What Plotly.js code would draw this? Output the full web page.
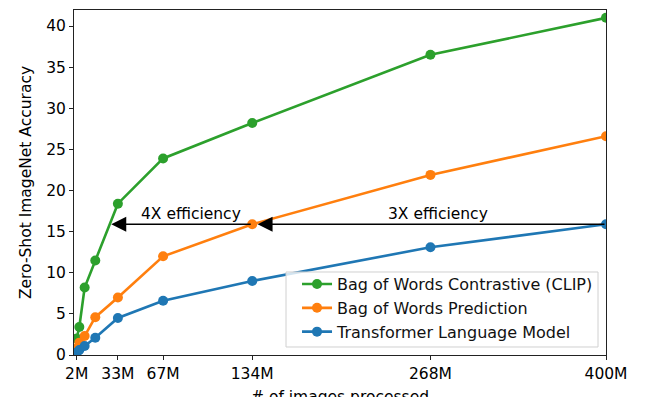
<!DOCTYPE html>
<html>
<head>
<meta charset="utf-8">
<script src="https://cdn.plot.ly/plotly-3.0.1.min.js"></script>
<style>html,body{margin:0;padding:0;background:#fff;}#chart{width:650px;height:397px;}</style>
</head>
<body>
<div id="chart"></div>
<script>
var imagesM = [2, 4, 8, 16, 33, 67, 134, 268, 400];
var clipAcc = [2.0, 3.4, 8.2, 11.5, 18.4, 23.9, 28.2, 36.5, 41.0];
var bowPredAcc = [0.8, 1.5, 2.3, 4.6, 7.0, 12.0, 15.9, 21.9, 26.6];
var transformerAcc = [0.3, 0.6, 1.1, 2.1, 4.5, 6.6, 9.0, 13.1, 15.9];
var tickVals = [2, 33, 67, 134, 268, 400];
var tickText = ["2M", "33M", "67M", "134M", "268M", "400M"];
var seriesNames = ["Bag of Words Contrastive (CLIP)", "Bag of Words Prediction", "Transformer Language Model"];
var seriesColors = ["#2ca02c", "#ff7f0e", "#1f77b4"];
var seriesData = [clipAcc, bowPredAcc, transformerAcc];

var font = "DejaVu Sans, sans-serif";
var fs = 15.5;
var traces = seriesData.map(function (ys, i) {
  return {
    x: imagesM, y: ys, name: seriesNames[i], type: "scatter", mode: "lines+markers",
    line: {color: seriesColors[i], width: 2.6},
    marker: {color: seriesColors[i], size: 10}
  };
});

var layout = {
  width: 650, height: 397,
  margin: {l: 74, r: 44, t: 10, b: 42},
  paper_bgcolor: "#fff", plot_bgcolor: "#fff",
  font: {family: font, size: fs, color: "#000"},
  showlegend: true,
  legend: {
    x: 0.985, y: 0.017, xanchor: "right", yanchor: "bottom",
    borderwidth: 0, bgcolor: "rgba(0,0,0,0)",
    font: {family: font, size: 16, color: "#111"}, itemwidth: 30
  },
  shapes: [
    {type: "rect", xref: "paper", yref: "paper", x0: 0.3985, x1: 0.985, y0: 0.0232, y1: 0.2406,
     line: {color: "#d0d0d0", width: 1}, fillcolor: "rgba(255,255,255,0.8)", layer: "above"}
  ],
  xaxis: {
    range: [0, 400], tickvals: tickVals, ticktext: tickText,
    showgrid: false, zeroline: false, showline: true, mirror: true,
    linecolor: "#222", linewidth: 1, ticks: "outside", ticklen: 4, tickcolor: "#222",
    tickfont: {family: font, size: fs, color: "#000"}
  },
  yaxis: {
    range: [0, 41.95], tickvals: [0, 5, 10, 15, 20, 25, 30, 35, 40],
    showgrid: false, zeroline: false, showline: true, mirror: true,
    linecolor: "#222", linewidth: 1, ticks: "outside", ticklen: 4, tickcolor: "#222",
    tickfont: {family: font, size: fs, color: "#000"},
    title: {text: "Zero-Shot ImageNet Accuracy", font: {family: font, size: fs, color: "#000"}, standoff: 10}
  },
  annotations: [
    {x: 138, y: transformerAcc[8], ax: imagesM[8], ay: transformerAcc[8], xref: "x", yref: "y", axref: "x", ayref: "y",
     showarrow: true, arrowhead: 2, arrowsize: 2, arrowwidth: 1.5, arrowcolor: "#000", text: ""},
    {x: 28, y: bowPredAcc[6], ax: imagesM[6], ay: bowPredAcc[6], xref: "x", yref: "y", axref: "x", ayref: "y",
     showarrow: true, arrowhead: 2, arrowsize: 2, arrowwidth: 1.5, arrowcolor: "#000", text: ""},
    {x: 274, y: 15.9, xref: "x", yref: "y", yanchor: "bottom", yshift: -1, showarrow: false, text: "3X efficiency",
     font: {family: font, size: fs, color: "#000"}},
    {x: 88, y: 15.9, xref: "x", yref: "y", yanchor: "bottom", yshift: -1, showarrow: false, text: "4X efficiency",
     font: {family: font, size: fs, color: "#000"}},
    {x: 0.5, y: 0, xref: "paper", yref: "paper", xanchor: "center", yanchor: "middle", yshift: -42,
     showarrow: false, text: "# of images processed", font: {family: font, size: fs, color: "#000"}}
  ]
};
Plotly.newPlot("chart", traces, layout, {displayModeBar: false, staticPlot: true});
</script>
</body>
</html>
